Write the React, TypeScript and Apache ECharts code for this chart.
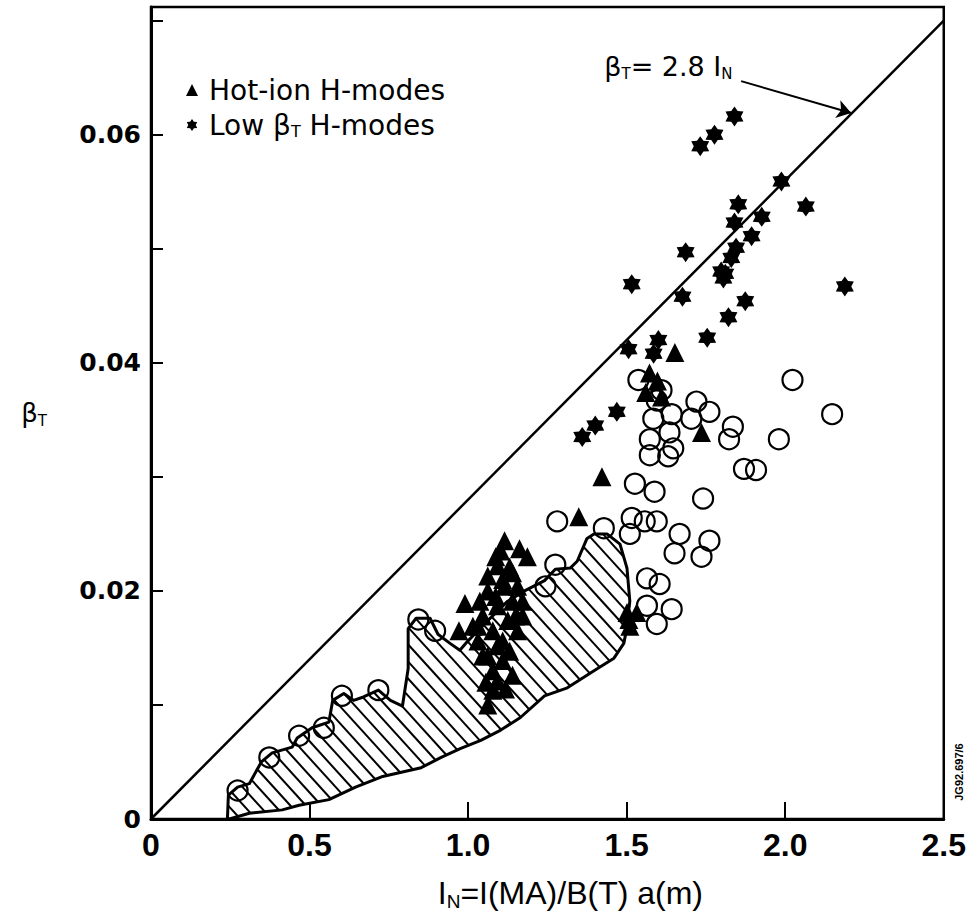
import React, { useEffect, useRef } from 'react';
import * as echarts from 'echarts';

// ---- data (I_N, beta_T) ----
const hotIonModes: [number, number][] = [
  [1.652, 0.0409], [1.736, 0.0339], [1.422, 0.0300], [1.349, 0.0265],
  [1.501, 0.0181], [1.507, 0.0175], [1.532, 0.0181], [1.510, 0.0169],
  [1.572, 0.0391], [1.597, 0.0384], [1.560, 0.0374], [1.610, 0.0370],
  [1.115, 0.0244], [1.162, 0.0237], [1.187, 0.0230], [1.087, 0.0230],
  [1.131, 0.0221], [1.109, 0.0210], [1.156, 0.0204], [1.062, 0.0200],
  [1.140, 0.0191], [1.093, 0.0187], [1.046, 0.0178], [1.125, 0.0174],
  [1.078, 0.0165], [1.156, 0.0165], [1.031, 0.0156], [1.093, 0.0152],
  [1.062, 0.0143], [1.109, 0.0139], [1.078, 0.0130], [1.056, 0.0120],
  [1.140, 0.0126], [0.990, 0.0189], [0.971, 0.0165], [1.015, 0.0169],
  [1.062, 0.0100],
  [1.093, 0.0222], [1.140, 0.0216], [1.172, 0.0191], [1.172, 0.0178],
  [1.037, 0.0191], [1.031, 0.0169], [1.109, 0.0156], [1.046, 0.0143],
  [1.093, 0.0121], [1.078, 0.0113], [1.118, 0.0114], [1.131, 0.0147],
  [1.150, 0.0178], [1.087, 0.0195], [1.115, 0.0204], [1.062, 0.0213],
  [1.103, 0.0235],
];

const lowBetaModes: [number, number][] = [
  [1.840, 0.0616], [1.777, 0.0600], [1.732, 0.0590], [1.988, 0.0559],
  [2.065, 0.0537], [1.852, 0.0539], [1.926, 0.0528], [1.840, 0.0523],
  [1.894, 0.0511], [1.845, 0.0501], [1.830, 0.0492], [1.811, 0.0478],
  [1.798, 0.0480], [1.805, 0.0474], [1.686, 0.0497], [1.516, 0.0469],
  [2.188, 0.0467], [1.676, 0.0458], [1.874, 0.0454], [1.821, 0.0440],
  [1.754, 0.0422], [1.600, 0.0420], [1.506, 0.0412], [1.585, 0.0408],
  [1.469, 0.0357], [1.401, 0.0345], [1.360, 0.0335],
];

const otherModes: [number, number][] = [
  [2.023, 0.0385], [1.980, 0.0333], [2.148, 0.0355], [1.537, 0.0385],
  [1.720, 0.0366], [1.761, 0.0357], [1.704, 0.0351], [1.642, 0.0355],
  [1.584, 0.0351], [1.635, 0.0339], [1.573, 0.0333], [1.647, 0.0325],
  [1.573, 0.0319], [1.631, 0.0318], [1.835, 0.0344], [1.823, 0.0333],
  [1.870, 0.0307], [1.908, 0.0306], [1.526, 0.0294], [1.588, 0.0287],
  [1.741, 0.0281], [1.281, 0.0261], [1.595, 0.0261], [1.667, 0.0250],
  [1.761, 0.0244], [1.651, 0.0233], [1.736, 0.0230], [1.516, 0.0264],
  [1.428, 0.0255], [1.275, 0.0223], [1.244, 0.0204], [1.564, 0.0211],
  [1.604, 0.0206], [1.642, 0.0184], [1.564, 0.0187], [1.595, 0.0171],
  [1.510, 0.0250], [1.557, 0.0261], [1.610, 0.0376], [1.595, 0.0367],
  [0.717, 0.0113], [0.602, 0.0108], [0.843, 0.0175], [0.896, 0.0165],
  [0.467, 0.0073], [0.373, 0.0054], [0.273, 0.0025], [0.545, 0.0080],
];

// envelope of the bulk of the database (hatched area)
const envelopeX = [
  0.241, 0.244, 0.273, 0.310, 0.348, 0.382, 0.445, 0.461, 0.508, 0.561,
  0.573, 0.608, 0.639, 0.670, 0.717, 0.755, 0.793, 0.811, 0.811, 0.836,
  0.880, 0.905, 0.943, 0.974, 0.999, 1.062, 1.125, 1.178, 1.241, 1.275,
  1.322, 1.344, 1.375, 1.397, 1.438, 1.479, 1.501, 1.510, 1.501, 1.491,
  1.460, 1.397, 1.313, 1.241, 1.165, 1.103, 1.040, 0.977, 0.915, 0.852,
  0.727, 0.645, 0.561, 0.467, 0.414, 0.310, 0.247,
];
const envelopeY = [
  0.0000, 0.0021, 0.0028, 0.0031, 0.0050, 0.0058, 0.0063, 0.0071, 0.0080, 0.0085,
  0.0104, 0.0110, 0.0104, 0.0107, 0.0113, 0.0104, 0.0099, 0.0132, 0.0167, 0.0176,
  0.0176, 0.0162, 0.0154, 0.0148, 0.0156, 0.0174, 0.0191, 0.0200, 0.0209, 0.0219,
  0.0220, 0.0226, 0.0246, 0.0250, 0.0250, 0.0241, 0.0220, 0.0191, 0.0168, 0.0154,
  0.0141, 0.0130, 0.0115, 0.0108, 0.0089, 0.0078, 0.0069, 0.0062, 0.0054, 0.0045,
  0.0037, 0.0028, 0.0017, 0.0012, 0.0008, 0.0005, 0.0000,
];

const limitLine: [number, number][] = [[0, 0], [2.5, 0.07]];
const arrowFrom: [number, number] = [1.861, 0.0647];
const arrowTo: [number, number] = [2.208, 0.0619];
const labelAt: [number, number] = [1.412, 0.0660];

const xTickValues = [0, 0.5, 1.0, 1.5, 2.0, 2.5];
const xTickLabels = ['0', '0.5', '1.0', '1.5', '2.0', '2.5'];
const yTickValues = [0, 0.02, 0.04, 0.06];
const yTickLabels = ['0', '0.02', '0.04', '0.06'];

const STAR =
  'path://M10 0L13.1 4.63L18.66 5L16.2 10L18.66 15L13.1 15.37L10 20L6.9 15.37L1.34 15L3.8 10L1.34 5L6.9 4.63Z';

const SANS = '"Liberation Sans", Arial, Helvetica, sans-serif';
const DEJAVU = '"DejaVu Sans", sans-serif';

function labelFor(v: number, vals: number[], labels: string[]) {
  for (let i = 0; i < vals.length; i++) {
    if (Math.abs(v - vals[i]) < 1e-9) return labels[i];
  }
  return '';
}

function hatchRender(params: any, api: any) {
  const pts: number[][] = envelopeX.map((x, i) => api.coord([x, envelopeY[i]]));
  const dx = 1, dy = 1.1;
  const len = Math.hypot(dx, dy);
  const d = [dx / len, dy / len];
  const n = [-d[1], d[0]];
  const proj = pts.map((p) => p[0] * n[0] + p[1] * n[1]);
  const cMin = Math.min(...proj), cMax = Math.max(...proj);
  const step = 11.5;
  const children: any[] = [];
  for (let c = cMin + step / 2; c < cMax; c += step) {
    const hits: number[][] = [];
    for (let i = 0; i < pts.length; i++) {
      const p1 = pts[i], p2 = pts[(i + 1) % pts.length];
      const s1 = proj[i] - c, s2 = proj[(i + 1) % pts.length] - c;
      if ((s1 < 0 && s2 >= 0) || (s1 >= 0 && s2 < 0)) {
        const t = s1 / (s1 - s2);
        hits.push([p1[0] + t * (p2[0] - p1[0]), p1[1] + t * (p2[1] - p1[1])]);
      }
    }
    hits.sort((a, b) => (a[0] * d[0] + a[1] * d[1]) - (b[0] * d[0] + b[1] * d[1]));
    for (let k = 0; k + 1 < hits.length; k += 2) {
      children.push({
        type: 'line',
        shape: { x1: hits[k][0], y1: hits[k][1], x2: hits[k + 1][0], y2: hits[k + 1][1] },
        style: { stroke: '#000', lineWidth: 2 },
      });
    }
  }
  children.push({
    type: 'polygon',
    shape: { points: pts },
    style: { fill: 'none', stroke: '#000', lineWidth: 3, lineJoin: 'round' },
  });
  return { type: 'group', children };
}

export default function App() {
  const ref = useRef<HTMLDivElement>(null);
  useEffect(() => {
    if (!ref.current) return;
    const chart = echarts.init(ref.current, undefined, { renderer: 'svg' });
    const sub = { fontFamily: DEJAVU, fontSize: 15, lineHeight: 14, color: '#000', verticalAlign: 'bottom' };
    const option: any = {
      animation: false,
      backgroundColor: '#fff',
      grid: {
        left: 151, top: 7, width: 797, height: 812,
        show: true, borderColor: '#000', borderWidth: 2.5, backgroundColor: 'transparent',
      },
      legend: {
        data: ['Hot-ion H-modes', 'Low βT H-modes'],
        orient: 'vertical',
        left: 181,
        top: 71,
        itemWidth: 12,
        itemHeight: 12,
        itemGap: 7,
        formatter: (name: string) =>
          name === 'Low βT H-modes'
            ? '{t|Low β}{s|T}{u| H-modes}'
            : '{t|' + name + '}',
        textStyle: {
          color: '#000',
          rich: {
            t: { fontFamily: DEJAVU, fontSize: 28, lineHeight: 28, color: '#000', padding: [0, 0, 0, 6] },
            u: { fontFamily: DEJAVU, fontSize: 28, lineHeight: 28, color: '#000' },
            s: { ...sub, fontSize: 16 },
          },
        },
      },
      xAxis: {
        type: 'value', min: 0, max: 2.5, interval: 0.5,
        name: '{n|I}{s|N}{n|=I(MA)/B(T) a(m)}',
        nameLocation: 'middle',
        nameGap: 56,
        nameTextStyle: {
          padding: [0, 0, 0, 46],
          rich: {
            n: { fontFamily: SANS, fontSize: 32, lineHeight: 36, color: '#000' },
            s: { fontFamily: SANS, fontSize: 19, lineHeight: 18, color: '#000', verticalAlign: 'bottom' },
          },
        },
        axisLine: { lineStyle: { color: '#000', width: 3 } },
        axisTick: { inside: true, length: 17, lineStyle: { color: '#000', width: 2 } },
        splitLine: { show: false },
        axisLabel: {
          formatter: (v: number) => labelFor(v, xTickValues, xTickLabels),
          fontFamily: SANS, fontWeight: 'bold', fontSize: 32, color: '#000', margin: 10,
        },
      },
      yAxis: {
        type: 'value', min: 0, max: 0.0712, interval: 0.01,
        name: '{b|β}{s|T}',
        nameLocation: 'middle',
        nameRotate: 0,
        nameGap: 104,
        nameTextStyle: {
          rich: {
            b: { fontFamily: DEJAVU, fontSize: 26, lineHeight: 30, color: '#000' },
            s: sub,
          },
        },
        axisLine: { lineStyle: { color: '#000', width: 3 } },
        axisTick: { inside: true, length: 12, lineStyle: { color: '#000', width: 2 } },
        splitLine: { show: false },
        axisLabel: {
          formatter: (v: number) => labelFor(v, yTickValues, yTickLabels),
          fontFamily: DEJAVU, fontWeight: 'bold', fontSize: 25, color: '#000', margin: 10,
        },
      },
      series: [
        {
          type: 'custom', name: 'envelope', z: 1, silent: true,
          renderItem: hatchRender,
          data: [[0, 0]],
        },
        {
          type: 'line', name: 'limit', z: 2, data: limitLine, symbol: 'none',
          lineStyle: { color: '#000', width: 2.5 },
          markLine: {
            silent: true,
            symbol: ['none', 'arrow'],
            symbolSize: 14,
            lineStyle: { color: '#000', width: 2, type: 'solid' },
            itemStyle: { color: '#000' },
            label: { show: false },
            data: [[{ coord: arrowFrom }, { coord: arrowTo }]],
          },
          markPoint: {
            silent: true,
            symbol: 'rect', symbolSize: 1,
            itemStyle: { color: 'transparent' },
            data: [{ coord: labelAt }],
            label: {
              show: true,
              position: 'right',
              formatter: '{b|β}{s|T}{b|= 2.8 I}{s|N}',
              rich: {
                b: { fontFamily: DEJAVU, fontSize: 27, lineHeight: 30, color: '#000' },
                s: sub,
              },
            },
          },
        },
        {
          type: 'scatter', name: 'other', z: 3, data: otherModes, symbol: 'circle', symbolSize: 20,
          itemStyle: { color: 'rgba(0,0,0,0)', borderColor: '#000', borderWidth: 2.2, opacity: 1 },
        },
        {
          type: 'scatter', name: 'Hot-ion H-modes', z: 4, data: hotIonModes, symbol: 'triangle',
          symbolSize: [19, 19], itemStyle: { color: '#000', opacity: 1 },
        },
        {
          type: 'scatter', name: 'Low βT H-modes', z: 4, data: lowBetaModes, symbol: STAR,
          symbolSize: [18, 20], itemStyle: { color: '#000', opacity: 1 },
        },
      ],
      graphic: [
        {
          type: 'text', x: 959, y: 772, rotation: Math.PI / 2,
          style: {
            text: 'JG92.697/6', fill: '#000', font: 'bold 11px ' + SANS,
            align: 'center', verticalAlign: 'middle',
          },
        },
      ],
    };
    chart.setOption(option);
    return () => chart.dispose();
  }, []);
  return (
    <div
      ref={ref}
      style={{ position: 'fixed', left: 0, top: 0, width: 969, height: 918, background: '#fff' }}
    />
  );
}
